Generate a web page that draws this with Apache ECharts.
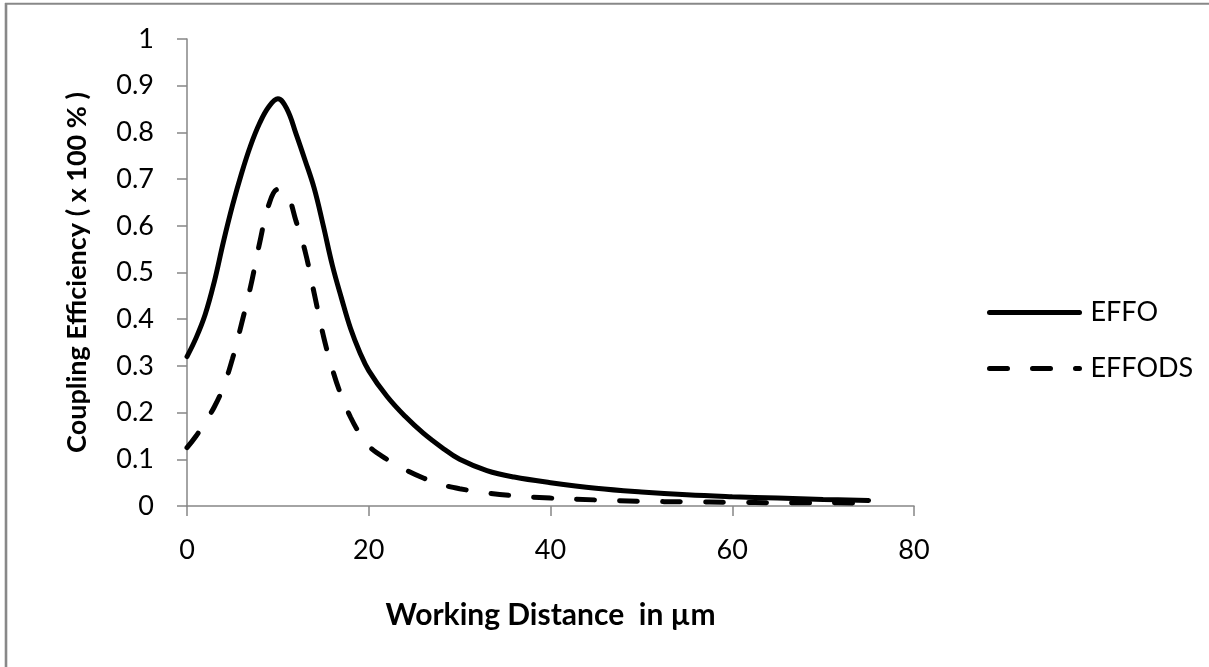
<!DOCTYPE html>
<html>
<head>
<meta charset="utf-8">
<script src="https://cdn.jsdelivr.net/npm/echarts@6/dist/echarts.min.js"></script>
<style>
html,body{margin:0;padding:0;background:#fff;}
#chart{width:1209px;height:667px;}
</style>
</head>
<body>
<div id="chart"></div>
<script>
const distances = [0,1,2,3,4,5,6,7,8,9,10,11,12,13,14,15,16,17,18,19,20,22,24,26,28,30,33,36,40,45,50,55,60,65,70,75];
const effo = [0.32,0.36,0.41,0.48,0.565,0.643,0.712,0.772,0.82,0.855,0.872,0.85,0.797,0.74,0.68,0.6,0.515,0.445,0.38,0.33,0.29,0.235,0.192,0.156,0.126,0.1,0.076,0.062,0.05,0.038,0.03,0.024,0.02,0.017,0.014,0.012];
const effods = [0.125,0.15,0.18,0.212,0.255,0.315,0.39,0.47,0.564,0.645,0.678,0.668,0.61,0.545,0.455,0.365,0.293,0.235,0.19,0.155,0.128,0.1,0.078,0.06,0.046,0.037,0.028,0.022,0.017,0.013,0.01,0.009,0.008,0.007,0.007,0.006];
const seriesNames = ['EFFO','EFFODS'];
const xTitle = 'Working Distance  in µm';
const yTitle = 'Coupling Efficiency ( x 100 % )';

const chart = echarts.init(document.getElementById('chart'));
const axisColor = '#868686';
const font = 'Lato';
function pairs(ys){ return distances.map((x,i)=>[x, ys[i]]); }

chart.setOption({
  animation: false,
  backgroundColor: '#ffffff',
  textStyle: { fontFamily: font },
  graphic: [
    { type: 'line', shape: { x1: 6, y1: 3, x2: 6, y2: 667 }, style: { stroke: '#888888', lineWidth: 2.6 } },
    { type: 'line', shape: { x1: 5, y1: 3.7, x2: 1209, y2: 3.7 }, style: { stroke: '#888888', lineWidth: 2 } }
  ],
  grid: { left: 187, right: 295, top: 39, bottom: 161 },
  legend: {
    orient: 'vertical',
    left: 982,
    top: 294,
    itemWidth: 90,
    itemHeight: 27,
    itemGap: 29,
    itemStyle: { opacity: 0, color: 'transparent', borderWidth: 0 },
    lineStyle: { width: 5, cap: 'round' },
    textStyle: { fontFamily: font, fontSize: 27, color: '#000', padding: [0, 0, 0, 6] },
    data: seriesNames
  },
  xAxis: {
    type: 'value',
    min: 0, max: 80, interval: 20,
    name: xTitle,
    nameLocation: 'middle',
    nameGap: 94,
    nameTextStyle: { fontFamily: font, fontWeight: 'bold', fontSize: 30, color: '#000' },
    axisLine: { lineStyle: { color: axisColor, width: 1.5 } },
    axisTick: { show: true, length: 10, lineStyle: { color: axisColor, width: 1.5 } },
    axisLabel: { margin: 31, fontFamily: font, fontSize: 27, color: '#000' },
    splitLine: { show: false }
  },
  yAxis: {
    type: 'value',
    min: 0, max: 1, interval: 0.1,
    name: yTitle,
    nameLocation: 'middle',
    nameGap: 96,
    nameRotate: 90,
    nameTextStyle: { fontFamily: font, fontWeight: 'bold', fontSize: 27, color: '#000' },
    axisLine: { show: true, lineStyle: { color: axisColor, width: 1.5 } },
    axisTick: { show: true, length: 10, lineStyle: { color: axisColor, width: 1.5 } },
    axisLabel: { margin: 33, fontFamily: font, fontSize: 27, color: '#000' },
    splitLine: { show: false }
  },
  series: [
    {
      name: seriesNames[0], type: 'line', data: pairs(effo),
      smooth: 0.4, showSymbol: false, symbol: 'none',
      lineStyle: { color: '#000', width: 5, type: 'solid', cap: 'round' },
      itemStyle: { color: '#000' }
    },
    {
      name: seriesNames[1], type: 'line', data: pairs(effods),
      smooth: 0.4, showSymbol: false, symbol: 'none',
      lineStyle: { color: '#000', width: 5, type: [18, 25], cap: 'round' },
      itemStyle: { color: '#000' }
    }
  ]
});
</script>
</body>
</html>
